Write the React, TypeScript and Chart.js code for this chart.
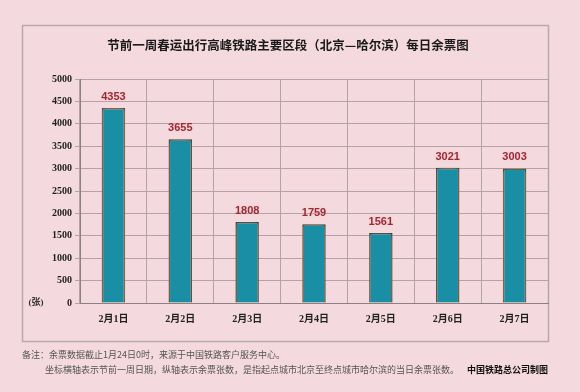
import React, { useEffect, useRef } from "react";
import { Chart, registerables } from "chart.js";

Chart.register(...registerables);

const title = "节前一周春运出行高峰铁路主要区段（北京—哈尔滨）每日余票图";
const categories = ["2月1日", "2月2日", "2月3日", "2月4日", "2月5日", "2月6日", "2月7日"];
const remainingTickets = [4353, 3655, 1808, 1759, 1561, 3021, 3003];
const yMax = 5000;
const yStep = 500;
const unitLabel = "(张)";
const noteLine1 = "备注：余票数据截止1月24日0时，来源于中国铁路客户服务中心。";
const noteLine2 = "坐标横轴表示节前一周日期，纵轴表示余票张数，是指起点城市北京至终点城市哈尔滨的当日余票张数。";
const credit = "中国铁路总公司制图";

const BG = "#f4dade";
const GRID = "#b3a3a8";
const SERIF = "'Liberation Serif', 'DejaVu Serif', 'Noto Sans CJK SC', serif";
const SANS = "'Noto Sans CJK SC', 'Liberation Sans', sans-serif";

const decorPlugin = {
  id: "decor",
  beforeDraw(chart: any) {
    const ctx = chart.ctx;
    ctx.save();
    ctx.fillStyle = BG;
    ctx.fillRect(0, 0, chart.width, chart.height);
    ctx.strokeStyle = "#b9a9ad";
    ctx.lineWidth = 1.5;
    ctx.strokeRect(22.5, 25.5, 526, 316);
    ctx.fillStyle = "#1a1a1a";
    ctx.font = `bold 12.5px ${SANS}`;
    ctx.textAlign = "center";
    ctx.textBaseline = "middle";
    ctx.fillText(title, 288, 45);
    ctx.restore();
  },
  beforeDatasetsDraw(chart: any) {
    const ctx = chart.ctx;
    ctx.save();
    ctx.shadowColor = "rgba(255,170,110,0.9)";
    ctx.shadowBlur = 5;
  },
  afterDatasetsDraw(chart: any) {
    const ctx = chart.ctx;
    ctx.restore();
    const meta = chart.getDatasetMeta(0);
    ctx.save();
    ctx.font = `bold 11px 'Liberation Sans', 'DejaVu Sans', sans-serif`;
    ctx.textAlign = "center";
    ctx.textBaseline = "middle";
    ctx.shadowColor = "rgba(255,200,170,0.9)";
    ctx.shadowBlur = 3;
    ctx.fillStyle = "#952a45";
    meta.data.forEach((bar: any, i: number) => {
      ctx.fillText(String(remainingTickets[i]), bar.x, bar.y - 11);
    });
    ctx.restore();
  },
  afterDraw(chart: any) {
    const ctx = chart.ctx;
    const y0 = chart.scales.y.getPixelForValue(0);
    ctx.save();
    ctx.fillStyle = "#333";
    ctx.font = `bold 9px ${SERIF}`;
    ctx.textAlign = "center";
    ctx.textBaseline = "middle";
    ctx.fillText(unitLabel, 36, y0);
    ctx.textAlign = "left";
    ctx.font = `9px ${SANS}`;
    ctx.fillStyle = "#555";
    ctx.fillText(noteLine1, 22, 355);
    ctx.fillText(noteLine2, 45, 370);
    ctx.fillStyle = "#111";
    ctx.font = `bold 9px ${SANS}`;
    ctx.textAlign = "right";
    ctx.fillText(credit, 548, 370);
    ctx.restore();
  },
};

export default function App() {
  const ref = useRef<HTMLCanvasElement | null>(null);
  useEffect(() => {
    if (!ref.current) return;
    const chart = new Chart(ref.current, {
      type: "bar",
      data: {
        labels: categories,
        datasets: [
          {
            data: remainingTickets,
            backgroundColor: (c: any) => {
              const el = c.element;
              const ctx = c.chart.ctx;
              if (!el || !el.width) return "#1a8ea5";
              const g = ctx.createLinearGradient(el.x - el.width / 2, 0, el.x + el.width / 2, 0);
              g.addColorStop(0, "#0f6f80");
              g.addColorStop(0.45, "#1f98ae");
              g.addColorStop(1, "#127789");
              return g;
            },
            borderColor: "#2a3f42",
            borderWidth: 1.5,
            barPercentage: 0.35,
            categoryPercentage: 1,
          },
        ],
      },
      options: {
        responsive: false,
        animation: false,
        layout: { padding: { top: 79, right: 32, bottom: 0, left: 0 } },
        plugins: {
          legend: { display: false },
          title: { display: false },
          tooltip: { enabled: false },
        },
        scales: {
          x: {
            afterFit: (s: any) => { s.height = 89; },
            grid: { color: GRID, lineWidth: 1, drawTicks: false },
            border: { color: "#8d8085", width: 1 },
            ticks: {
              color: "#222",
              font: { family: SERIF, size: 10, weight: "bold" },
              padding: 10,
            },
          },
          y: {
            min: 0,
            max: yMax,
            afterFit: (s: any) => { s.width = 80; },
            grid: { color: GRID, lineWidth: 1, tickLength: 5 },
            border: { color: "#8d8085", width: 1 },
            ticks: {
              stepSize: yStep,
              color: "#222",
              font: { family: SERIF, size: 10, weight: "bold" },
              padding: 3,
              callback: (v: any) => String(v),
            },
          },
        },
      },
      plugins: [decorPlugin],
    } as any);
    return () => chart.destroy();
  }, []);
  return (
    <div style={{ position: "absolute", left: 0, top: 0, width: 580, height: 392, background: BG }}>
      <canvas ref={ref} width={580} height={392} style={{ display: "block" }} />
    </div>
  );
}
